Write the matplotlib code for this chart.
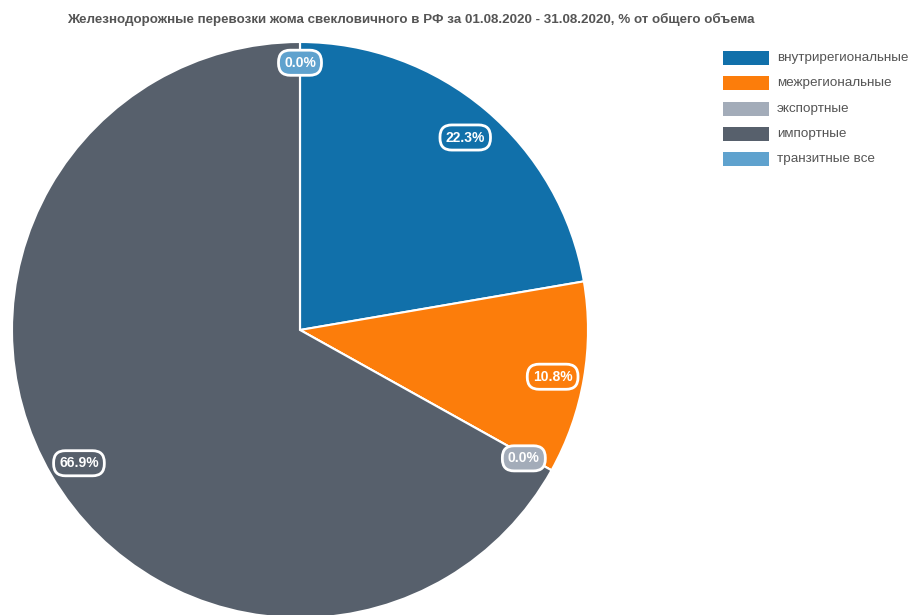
import numpy as np
import matplotlib.pyplot as plt
from matplotlib.patches import Rectangle

# data
categories = ['внутрирегиональные', 'межрегиональные', 'экспортные', 'импортные', 'транзитные все']
shares = [22.3, 10.8, 0.0, 66.9, 0.0]
colors = ['#1170aa', '#fc7d0b', '#a3acb9', '#57606c', '#5fa2ce']
title = 'Железнодорожные перевозки жома свекловичного в РФ за 01.08.2020 - 31.08.2020, % от общего объема'

plt.rcParams['font.family'] = ['Liberation Sans', 'DejaVu Sans']

W, H = 912, 615
fig = plt.figure(figsize=(W / 100, H / 100), dpi=100)

# pie axes: center (300, 330) px, radius 288 px
cx, cy, r = 300, 330, 288
ax = fig.add_axes([(cx - r) / W, (H - cy - r) / H, 2 * r / W, 2 * r / H])

wedges, _ = ax.pie(shares, colors=colors, startangle=90, counterclock=False, radius=1,
                   wedgeprops=dict(edgecolor='white', linewidth=1.5), normalize=True)
for w in wedges:
    w.set_clip_on(False)
ax.set_xlim(-1, 1)
ax.set_ylim(-1, 1)
ax.axis('off')

# labels
total = sum(shares)
cum = 0
for i, v in enumerate(shares):
    mid = 90 - (cum + v / 2) / total * 360
    cum += v
    dist = 0.94 if i == len(shares) - 1 else 0.89
    x = dist * np.cos(np.radians(mid))
    y = dist * np.sin(np.radians(mid))
    ax.text(x, y - 0.012, f'{v:.1f}%', ha='center', va='center', color='white', fontsize=10,
            fontweight='bold', zorder=5,
            bbox=dict(boxstyle='round,pad=0.4,rounding_size=0.85', fc=colors[i], ec='white', lw=2))

# title
fig.text(411 / W, 1 - 19 / H, title, ha='center', va='center', fontsize=9.6,
         fontweight='bold', color='#555555')

# legend
for i, (name, c) in enumerate(zip(categories, colors)):
    yc = 58 + i * 25.3
    fig.patches.append(Rectangle((723 / W, 1 - (yc + 7) / H), 46 / W, 14 / H,
                                 transform=fig.transFigure, fc=c, ec='none'))
    fig.text(777 / W, 1 - yc / H, name, ha='left', va='center', fontsize=9.7, color='#555555')

fig.savefig('out.png', dpi=100)
